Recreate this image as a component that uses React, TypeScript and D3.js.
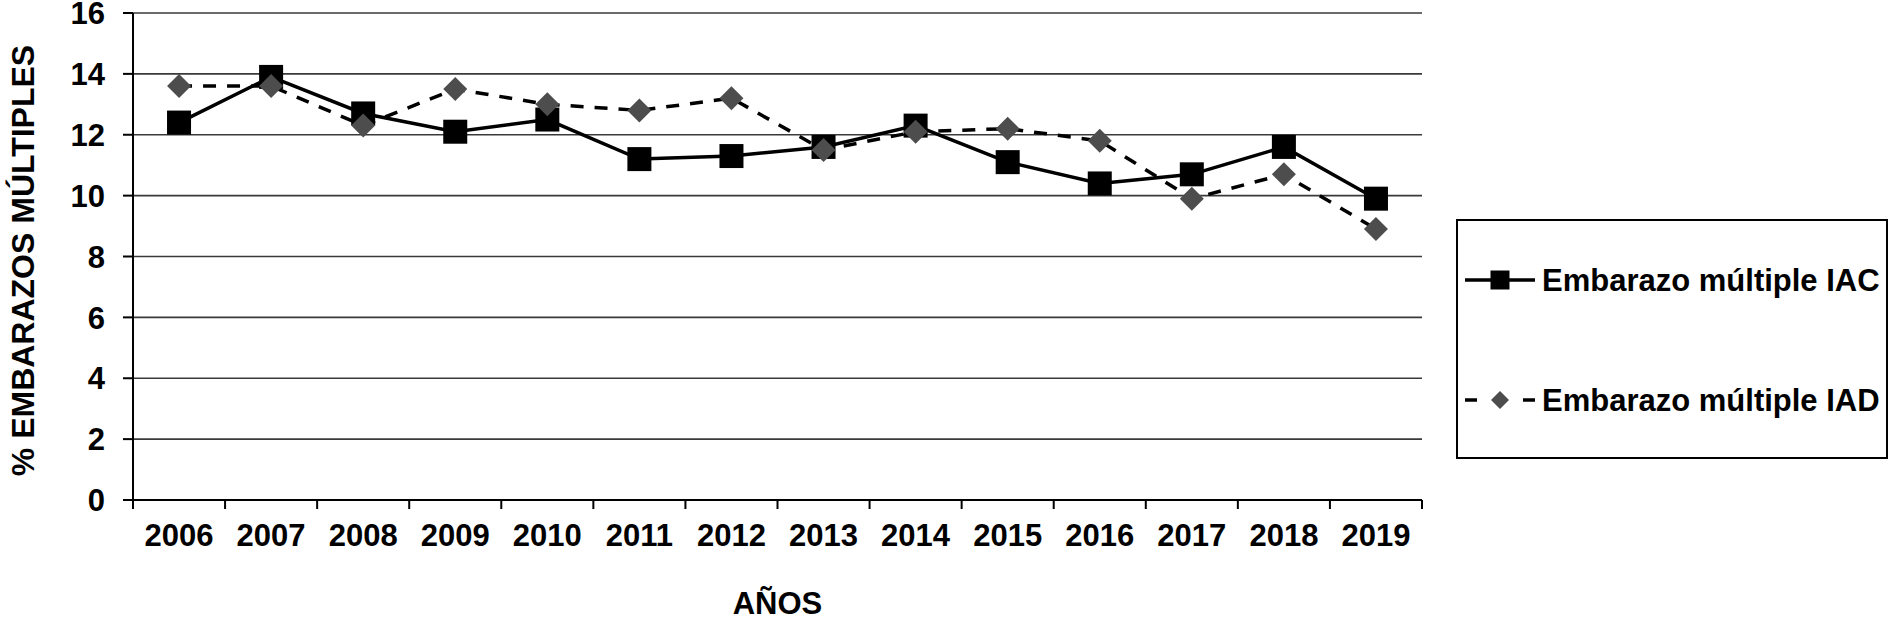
import * as d3 from 'd3';

const years = ['2006', '2007', '2008', '2009', '2010', '2011', '2012', '2013', '2014', '2015', '2016', '2017', '2018', '2019'];
const iac = [12.4, 13.9, 12.7, 12.1, 12.5, 11.2, 11.3, 11.6, 12.3, 11.1, 10.4, 10.7, 11.6, 9.9];
const iad = [13.6, 13.6, 12.3, 13.5, 13.0, 12.8, 13.2, 11.5, 12.1, 12.2, 11.8, 9.9, 10.7, 8.9];
const yTicks = [0, 2, 4, 6, 8, 10, 12, 14, 16];
const seriesNames = ['Embarazo múltiple IAC', 'Embarazo múltiple IAD'];

const W = 1890;
const H = 618;
const left = 133;
const right = 1422;
const top = 13;
const bottom = 500;
const font = 'Arial, "Liberation Sans", Helvetica, sans-serif';

function diamond(cx: number, cy: number, r: number) {
  return `M${cx},${cy - r}L${cx + r},${cy}L${cx},${cy + r}L${cx - r},${cy}Z`;
}

export default function App() {
  const x = d3.scaleBand<string>().domain(years).range([left, right]).padding(0);
  const y = d3.scaleLinear().domain([0, 16]).range([bottom, top]);
  const cx = (d: string) => (x(d) ?? 0) + x.bandwidth() / 2;

  const line = d3
    .line<number>()
    .x((_, i) => cx(years[i]))
    .y((d) => y(d));

  // tick marks sit on band edges, both ends included
  const edges = years.map((d) => x(d) ?? 0).concat([right]);

  return (
    <svg width={W} height={H} style={{ position: 'absolute', left: 0, top: 0, background: '#fff' }} fontFamily={font}>
      {/* gridlines */}
      {yTicks.map((t) => (
        <line key={'g' + t} x1={left} x2={right} y1={y(t)} y2={y(t)} stroke={t === 0 ? '#000' : '#3a3a3a'} strokeWidth={t === 0 ? 2 : 1.6} />
      ))}
      {/* y axis */}
      <line x1={left} x2={left} y1={top} y2={bottom} stroke="#000" strokeWidth={2} />
      {yTicks.map((t) => (
        <g key={'yt' + t}>
          <line x1={left - 10} x2={left} y1={y(t)} y2={y(t)} stroke="#000" strokeWidth={2} />
          <text x={105} y={y(t)} dy="0.36em" textAnchor="end" fontSize={31} fontWeight="bold" fill="#000">
            {t}
          </text>
        </g>
      ))}
      {/* x axis */}
      {edges.map((e, i) => (
        <line key={'xt' + i} x1={e} x2={e} y1={bottom} y2={bottom + 9} stroke="#000" strokeWidth={2} />
      ))}
      {years.map((d) => (
        <text key={'xl' + d} x={cx(d)} y={546} textAnchor="middle" fontSize={31} fontWeight="bold" fill="#000">
          {d}
        </text>
      ))}
      <text x={(left + right) / 2} y={614} textAnchor="middle" fontSize={31} fontWeight="bold" fill="#000">
        AÑOS
      </text>
      <text
        transform={`translate(34, ${(top + bottom) / 2 + 4}) rotate(-90)`}
        textAnchor="middle"
        fontSize={32}
        fontWeight="bold"
        fill="#000"
      >
        % EMBARAZOS MÚLTIPLES
      </text>

      {/* IAD dashed series */}
      <path d={line(iad) ?? ''} fill="none" stroke="#000" strokeWidth={3.5} strokeDasharray="13 11" />
      {/* IAC solid series */}
      <path d={line(iac) ?? ''} fill="none" stroke="#000" strokeWidth={3.5} />
      {iac.map((v, i) => (
        <rect key={'s' + i} x={cx(years[i]) - 12} y={y(v) - 12} width={24} height={24} fill="#000" />
      ))}
      {iad.map((v, i) => (
        <path key={'d' + i} d={diamond(cx(years[i]), y(v), 12)} fill="#4d4d4d" />
      ))}

      {/* legend */}
      <rect x={1457} y={220} width={430} height={238} fill="#fff" stroke="#000" strokeWidth={2} />
      <line x1={1465} x2={1535} y1={280} y2={280} stroke="#000" strokeWidth={3.5} />
      <rect x={1490.5} y={270.5} width={19} height={19} fill="#000" />
      <text x={1542} y={280} dy="0.36em" fontSize={31} fontWeight="bold" fill="#000">
        {seriesNames[0]}
      </text>
      <line x1={1465} x2={1535} y1={400} y2={400} stroke="#000" strokeWidth={3.5} strokeDasharray="12 23 0 23 12" />
      <path d={diamond(1500, 400, 9)} fill="#4d4d4d" />
      <text x={1542} y={400} dy="0.36em" fontSize={31} fontWeight="bold" fill="#000">
        {seriesNames[1]}
      </text>
    </svg>
  );
}
